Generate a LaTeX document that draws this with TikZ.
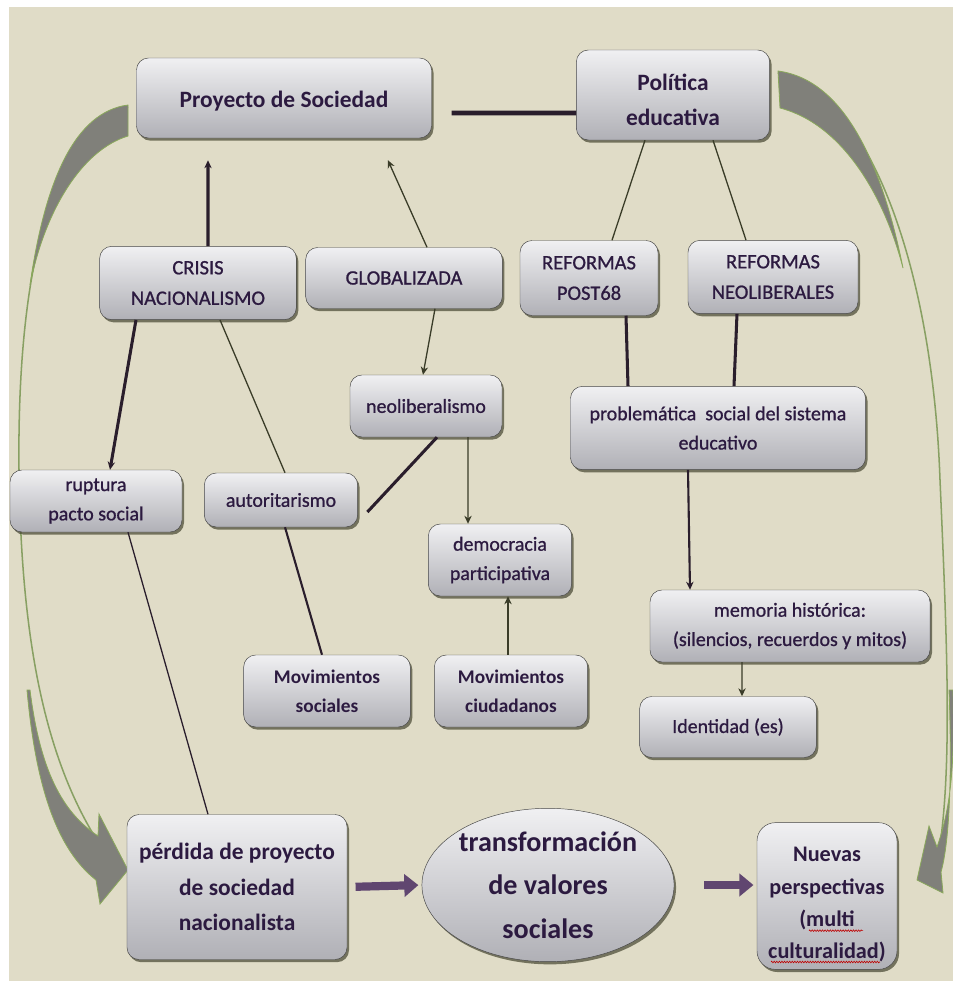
\documentclass[tikz,border=0pt]{standalone}
\usepackage{fontspec}
\setmainfont{Carlito}
\newfontfamily\mediumfont[FakeBold=0.9]{Carlito}
\usepackage{xcolor}
\usepackage{tikz}
\usetikzlibrary{arrows.meta,shapes.geometric,shadows,decorations.pathmorphing}

\definecolor{bgbeige}{RGB}{224,220,199}
\definecolor{inkpurple}{RGB}{44,26,64}
\definecolor{boxtop}{RGB}{240,240,242}
\definecolor{boxmid}{RGB}{208,208,212}
\definecolor{boxbot}{RGB}{176,176,182}
\definecolor{shadowolive}{RGB}{70,70,48}
\definecolor{linkdark}{RGB}{42,30,44}
\definecolor{linkolive}{RGB}{58,60,40}
\definecolor{arrowpurple}{RGB}{96,70,112}
\definecolor{swooshgray}{RGB}{128,128,122}
\definecolor{swooshgreen}{RGB}{138,168,92}

\begin{document}
\begin{tikzpicture}[
  x=0.03cm, y=-0.03cm,
  box/.style={draw=gray!55!black, line width=0.4pt, rounded corners=3.6mm, top color=boxtop, middle color=boxmid, bottom color=boxbot, align=center, text=inkpurple, inner sep=2pt, drop shadow={shadow xshift=0.6mm, shadow yshift=-0.8mm, fill=shadowolive, opacity=0.7}},
  bigbox/.style={box, font=\bfseries\fontsize{20}{30}\selectfont},
  capbox/.style={box, font=\mediumfont\fontsize{17.5}{26}\selectfont},
  midbox/.style={box, font=\mediumfont\fontsize{17}{25}\selectfont},
  conn/.style={line width=1.1pt, draw=linkolive},
  thickconn/.style={line width=2.6pt, draw=linkdark},
  arr/.style={-{Stealth[length=2.4mm,width=2.2mm]}},
  flowarrow/.style={line width=7pt, draw=arrowpurple, -{Triangle[width=19pt,length=12pt]}},
  swfill/.style={fill=swooshgray, draw=swooshgreen, line width=0.7pt},
  swline/.style={draw=swooshgreen!80!gray, line width=1.3pt},
  squiggle/.style={draw=red!75!black, line width=0.5pt, decorate, decoration={zigzag, amplitude=0.7pt, segment length=2.2pt}}
]
% background
\fill[white] (0,0) rectangle (953,981);
\fill[bgbeige] (9,7) rectangle (953,981);
\useasboundingbox (0,0) rectangle (953,981);

% large curved arrows
\draw[swline] (128,107) .. controls (45,135) and (17,290) .. (19,470) .. controls (21,640) and (45,760) .. (100,845);
\draw[swfill] (128,105) .. controls (75,112) and (45,180) .. (30,285) .. controls (45,210) and (82,150) .. (128,136) -- cycle;
\draw[swfill] (30,690) .. controls (40,770) and (62,812) .. (98,836) -- (99,814) -- (128,870) -- (100,904) -- (96,880) .. controls (58,850) and (36,790) .. (27,690) -- cycle;
\draw[swline] (778,73) .. controls (860,85) and (932,250) .. (940,480) .. controls (947,640) and (952,760) .. (940,845);
\draw[swfill] (778,71) .. controls (845,80) and (882,165) .. (903,268) .. controls (884,195) and (842,124) .. (780,108) -- cycle;
\draw[swfill] (953,690) .. controls (955,770) and (950,810) .. (937,847) -- (929,826) -- (917,880) -- (943,893) -- (941,872) .. controls (950,840) and (952,770) .. (949,690) -- cycle;

% boxes
\node[bigbox, minimum width=88.5mm, minimum height=24mm] (proyecto) at (284,98) {\rule{0pt}{20pt}Proyecto de Sociedad};
\node[bigbox, minimum width=58mm, minimum height=27mm] (politica) at (673,95) {\rule{0pt}{22pt}Política\\educativa};
\node[capbox, minimum width=59mm, minimum height=22mm] (crisis) at (198,283) {CRISIS\\NACIONALISMO};
\node[capbox, minimum width=59mm, minimum height=18.3mm] (global) at (404,278) {GLOBALIZADA};
\node[capbox, minimum width=41.4mm, minimum height=22.5mm] (post68) at (589,278) {REFORMAS\\POST68};
\node[capbox, minimum width=51mm, minimum height=22mm] (neoref) at (773,277) {REFORMAS\\NEOLIBERALES};
\node[midbox, minimum width=45.6mm, minimum height=18.6mm] (neolib) at (426,406) {neoliberalismo};
\node[midbox, minimum width=88.5mm, minimum height=25mm] (problem) at (718,428) {problemática\ \ social del sistema\\educativo};
\node[midbox, minimum width=51.6mm, minimum height=18.6mm] (ruptura) at (96,501) {ruptura\\pacto social};
\node[midbox, minimum width=46mm, minimum height=16.2mm] (autor) at (281,500) {autoritarismo};
\node[midbox, minimum width=43mm, minimum height=21.6mm] (democ) at (500,560) {democracia\\participativa};
\node[midbox, minimum width=84mm, minimum height=21.6mm] (memoria) at (790,626) {memoria histórica:\\(silencios, recuerdos y mitos)};
\node[midbox, font=\bfseries\fontsize{16.5}{25}\selectfont, minimum width=50mm, minimum height=21.6mm] (movsoc) at (327,691) {Movimientos\\sociales};
\node[midbox, font=\bfseries\fontsize{16.5}{25}\selectfont, minimum width=46mm, minimum height=21.6mm] (movciu) at (511,691) {Movimientos\\ciudadanos};
\node[midbox, minimum width=53mm, minimum height=18.3mm] (ident) at (728,727) {Identidad (es)};
\node[bigbox, minimum width=66mm, minimum height=43.5mm] (perdida) at (237,887) {pérdida de proyecto\\de sociedad\\nacionalista};
\node[bigbox, ellipse, sharp corners, inner sep=0pt, minimum width=72mm, minimum height=46mm, font=\bfseries\fontsize{24}{37}\selectfont] (transf) at (548,885) {transformación\\de valores\\sociales};
\node[bigbox, rounded corners=5.5mm, minimum width=42mm, minimum height=44mm, font=\bfseries\fontsize{19}{27.5}\selectfont] (nuevas) at (827,896) {\rule{0pt}{27pt}Nuevas\\perspectivas\\(multi\\culturalidad)};
\draw[squiggle] ([xshift=-5.4mm, yshift=-10.4mm]nuevas.center) -- ([xshift=10.8mm, yshift=-10.4mm]nuevas.center);
\draw[squiggle] ([xshift=-16.8mm, yshift=-19.8mm]nuevas.center) -- ([xshift=15.9mm, yshift=-19.8mm]nuevas.center);

% connectors
\draw[line width=4pt, draw=linkdark, shorten <=6mm] ([yshift=-4.5mm]proyecto.east) -- ([yshift=-5.4mm]politica.west);
\draw[thickconn, arr, shorten >=6.6mm] ([xshift=3mm]crisis.north) -- ([xshift=-22.8mm]proyecto.south);
\draw[conn, arr, shorten >=7.2mm] ([xshift=6.9mm]global.north) -- ([xshift=28.2mm]proyecto.south);
\draw[conn] ([xshift=-8.4mm]politica.south) -- ([xshift=6.9mm]post68.north);
\draw[conn] ([xshift=12mm]politica.south) -- ([xshift=-8.1mm]neoref.north);
\draw[thickconn, arr] ([xshift=-18.6mm]crisis.south) -- ([xshift=4.2mm]ruptura.north);
\draw[conn] ([xshift=6.6mm]crisis.south) -- ([xshift=1.2mm]autor.north);
\draw[conn, arr] ([xshift=9.3mm]global.south) -- ([xshift=-0.9mm]neolib.north);
\draw[thickconn] ([xshift=3.3mm]neolib.south) -- ([xshift=2.85mm, yshift=-3.6mm]autor.east);
\draw[conn, arr] ([xshift=12.6mm]neolib.south) -- ([xshift=-9.6mm]democ.north);
\draw[thickconn] ([xshift=11.1mm]post68.south) -- ([xshift=-27mm]problem.north);
\draw[thickconn] ([xshift=-10.8mm]neoref.south) -- ([xshift=4.8mm]problem.north);
\draw[thickconn, line width=1.8pt, arr] ([xshift=-9mm]problem.south) -- ([xshift=-30mm]memoria.north);
\draw[conn, arr] ([xshift=-14.4mm]memoria.south) -- ([xshift=4.2mm]ident.north);
\draw[thickconn, line width=1.8pt] ([xshift=1.2mm]autor.south) -- ([xshift=-1.5mm]movsoc.north);
\draw[conn, line width=1.6pt, arr] ([xshift=-0.9mm]movciu.north) -- ([xshift=2.4mm]democ.south);
\draw[conn, draw=linkdark] ([xshift=9.6mm]ruptura.south) -- ([xshift=-8.7mm]perdida.north);
\draw[flowarrow, shorten <=2.5mm, shorten >=1mm] (perdida.east) -- (transf.west);
\draw[flowarrow, shorten <=9mm, shorten >=1mm] (transf.east) -- (transf.east -| nuevas.west);
\end{tikzpicture}
\end{document}
